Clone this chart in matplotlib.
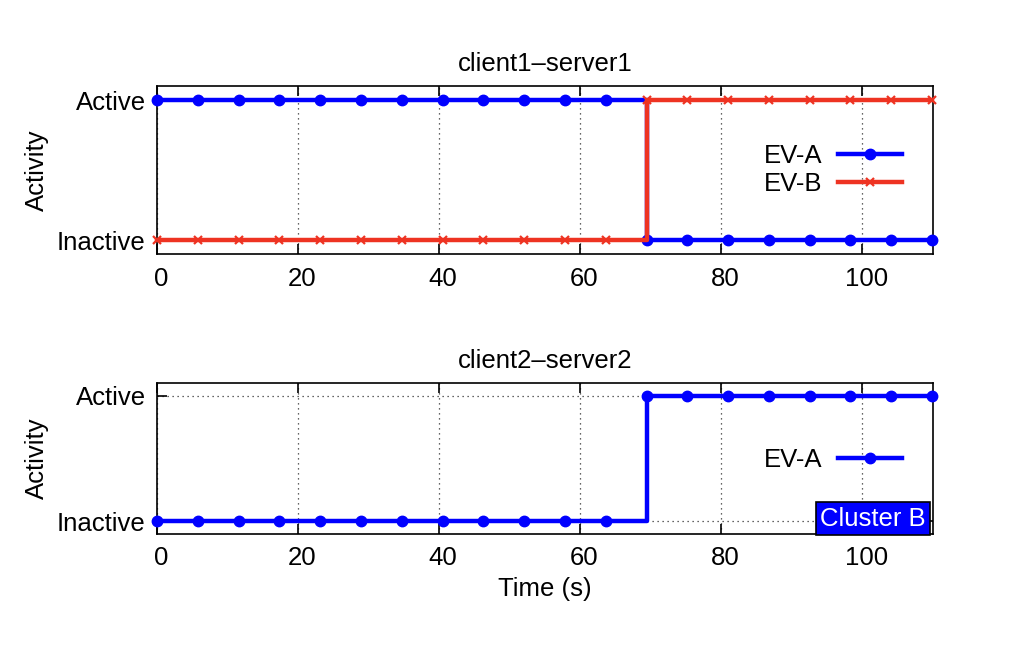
import matplotlib
matplotlib.use("Agg")
import matplotlib.pyplot as plt
import matplotlib.transforms as mtransforms

plt.rcParams['font.family'] = ['Liberation Sans', 'DejaVu Sans']
plt.rcParams['font.size'] = 18.5

# sample times (s)
time_s = [0, 5.8, 11.6, 17.3, 23.1, 28.9, 34.7, 40.5, 46.2, 52.0,
          57.8, 63.6, 69.4, 75.1, 80.9, 86.7, 92.5, 98.3, 104.0, 109.8]

# 1 = Active, 0 = Inactive
c1_ev_a = [1, 1, 1, 1, 1, 1, 1, 1, 1, 1, 1, 1, 0, 0, 0, 0, 0, 0, 0, 0]
c1_ev_b = [0, 0, 0, 0, 0, 0, 0, 0, 0, 0, 0, 0, 1, 1, 1, 1, 1, 1, 1, 1]
c2_ev_a = [0, 0, 0, 0, 0, 0, 0, 0, 0, 0, 0, 0, 1, 1, 1, 1, 1, 1, 1, 1]

state_ticks = [0, 1]
state_labels = ["Inactive", "Active"]
x_ticks = [0, 20, 40, 60, 80, 100]

BLUE = "#0000FF"
RED = "#EE3322"
FS = 18.5

fig = plt.figure(figsize=(10.3, 6.52), dpi=100)
ax1 = fig.add_axes([0.1524, 0.6104, 0.7534, 0.2577])
ax2 = fig.add_axes([0.1524, 0.1810, 0.7534, 0.2316])


def style_axes(ax, title):
    ax.set_xlim(0, 110)
    ax.set_ylim(-0.1, 1.1)
    ax.set_xticks(x_ticks)
    ax.set_yticks(state_ticks)
    ax.set_yticklabels(state_labels)
    ax.tick_params(direction="in", length=7, width=1.2, top=True, right=True,
                   pad=8, labelsize=FS)
    ax.tick_params(axis="x", pad=9)
    ax.grid(True, color="#333333", linestyle=(0, (1, 3)), linewidth=0.9)
    ax.set_axisbelow(True)
    for sp in ax.spines.values():
        sp.set_linewidth(1.2)
    ax.set_title(title, fontsize=FS, pad=11)
    ax.set_ylabel("Activity", fontsize=FS, labelpad=6)
    shift = mtransforms.ScaledTranslation(4 / 100, 0, fig.dpi_scale_trans)
    for lab in ax.get_xticklabels():
        lab.set_transform(lab.get_transform() + shift)


style_axes(ax1, "client1\u2013server1")
ax1.plot(time_s, c1_ev_a, drawstyle="steps-post", color=BLUE, lw=3.2,
         marker="o", ms=7.5, label="EV-A", clip_on=False, zorder=3)
ax1.plot(time_s, c1_ev_b, drawstyle="steps-post", color=RED, lw=3.2,
         marker="x", ms=6, mew=1.6, label="EV-B", clip_on=False, zorder=4)
ax1.legend(loc="center right", bbox_to_anchor=(0.977, 0.5), frameon=False,
           markerfirst=False, handlelength=2.5, handletextpad=0.6,
           labelspacing=0.12, borderpad=0, fontsize=FS)

style_axes(ax2, "client2\u2013server2")
ax2.plot(time_s, c2_ev_a, drawstyle="steps-post", color=BLUE, lw=3.2,
         marker="o", ms=7.5, label="EV-A", clip_on=False, zorder=3)
ax2.legend(loc="center right", bbox_to_anchor=(0.977, 0.49), frameon=False,
           markerfirst=False, handlelength=2.5, handletextpad=0.6,
           borderpad=0, fontsize=FS)
ax2.set_xlabel("Time (s)", fontsize=FS, labelpad=5)
ax2.text(0.991, 0.022, "Cluster B", transform=ax2.transAxes, ha="right",
         va="bottom", color="white", fontsize=FS, zorder=6,
         bbox=dict(boxstyle="square,pad=0.17", facecolor=BLUE,
                   edgecolor="black", linewidth=1.2))

fig.savefig("out.png", dpi=100)
